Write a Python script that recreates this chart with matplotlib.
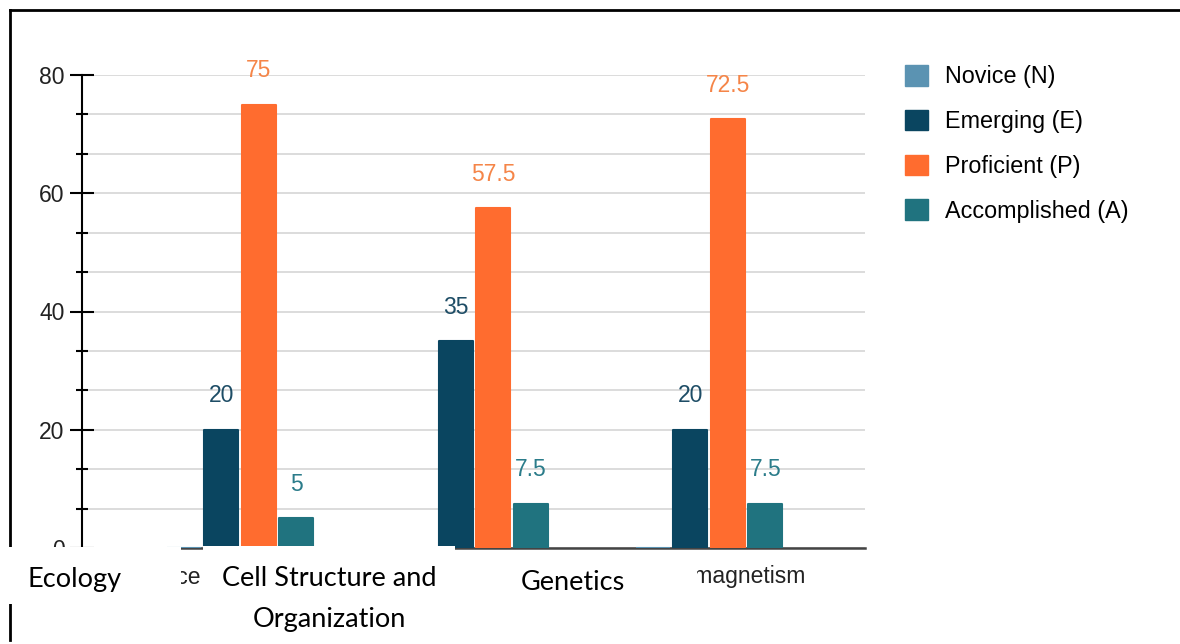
import matplotlib
matplotlib.use("Agg")
import matplotlib.pyplot as plt
from matplotlib.patches import Rectangle, Patch
from matplotlib.lines import Line2D
from matplotlib.ticker import MultipleLocator
from matplotlib.transforms import Bbox

# chart data
categories = ["Science", "Cell Structure and Organization", "Genetics", "Electromagnetism"]
series = ["Novice (N)", "Emerging (E)", "Proficient (P)", "Accomplished (A)"]
novice = [0, 0, 0, 0]
emerging = [0, 20, 35, 20]
proficient = [0, 75, 57.5, 72.5]
accomplished = [0, 5, 7.5, 7.5]
overlay_labels = ["Ecology", "Cell Structure and", "Organization", "Genetics"]

bar_colors = ["#5b93b2", "#0a4560", "#ff6c2f", "#20737f"]
label_colors = ["#5b93b2", "#1e4d66", "#f58548", "#2b7c8a"]

W, H = 1180, 644


def fx(x):
    return x / W


def fy(y):
    return 1 - y / H


fig = plt.figure(figsize=(11.8, 6.44), dpi=100)
ax = fig.add_axes([fx(82), fy(548), fx(865) - fx(82), fy(75) - fy(548)])

values = [novice, emerging, proficient, accomplished]
step = 0.16
width = 0.145
for i, (vals, col, lcol) in enumerate(zip(values, bar_colors, label_colors)):
    xs = [c + (i - 1.5) * step for c in range(len(categories))]
    ax.bar(xs, vals, width=width, color=col, edgecolor=col, linewidth=1.5,
           joinstyle="round", zorder=3)
    for x, v in zip(xs, vals):
        if v > 0:
            ax.annotate(f"{v:g}", (x, v), xytext=(0, 24.5), textcoords="offset points",
                        ha="center", va="center", color=lcol, fontsize=16.5,
                        family="Liberation Sans", annotation_clip=False)

ax.set_xlim(0.326, 3.665)
ax.set_ylim(0, 80)
ax.yaxis.set_major_locator(MultipleLocator(20))
ax.yaxis.set_minor_locator(MultipleLocator(20 / 3))
ax.grid(axis="y", which="both", color="#d6d6d6", linewidth=1.2, zorder=0)
ax.set_axisbelow(True)
ax.set_xticks([])
ax.tick_params(axis="y", which="major", direction="inout", length=17, width=1.5,
               labelsize=16.5, pad=4, labelcolor="#222222")
ax.tick_params(axis="y", which="minor", direction="inout", length=8, width=1.5)
for t in ax.get_yticklabels():
    t.set_family("Liberation Sans")
ax.spines["top"].set_visible(False)
ax.spines["right"].set_visible(False)
ax.spines["left"].set_linewidth(1.5)
ax.spines["left"].set_color("black")
ax.spines["bottom"].set_linewidth(1.8)
ax.spines["bottom"].set_color("#444444")

# legend
handles = [Patch(facecolor=c, edgecolor=c) for c in bar_colors]
fig.legend(handles, series, loc="upper left", bbox_to_anchor=(fx(905), fy(65)),
           frameon=False, handlelength=0.98, handleheight=0.98,
           handletextpad=0.72, labelspacing=0.92, borderaxespad=0, borderpad=0,
           prop={"family": "Liberation Sans", "size": 16.8})

# outer frame lines of the screenshot
fig.add_artist(Line2D([fx(10), fx(1180)], [fy(10), fy(10)], color="black", linewidth=2,
                      transform=fig.transFigure, zorder=4))
fig.add_artist(Line2D([fx(10), fx(10)], [fy(10), fy(640)], color="black", linewidth=2,
                      transform=fig.transFigure, zorder=4))

# remnants of the original category labels, partly covered
fig.text(fx(201), fy(577), categories[0], ha="right", va="center", fontsize=16.5,
         family="Liberation Sans", color="#222222", zorder=4)
rem = fig.text(fx(806), fy(577), categories[3], ha="right", va="center", fontsize=16.5,
               family="Liberation Sans", color="#222222", zorder=4)
rem.set_clip_box(Bbox([[697, 0], [W, H]]))
rem.set_clip_on(True)

# pasted-over label boxes
boxes = [(0, 547, 181, 604), (203, 545.5, 455, 644), (455, 552, 697, 644)]
for x0, y0, x1, y1 in boxes:
    fig.add_artist(Rectangle((fx(x0), fy(y1)), fx(x1) - fx(x0), fy(y0) - fy(y1),
                             transform=fig.transFigure, facecolor="white",
                             edgecolor="none", zorder=5))

fig.text(fx(75), fy(579), overlay_labels[0], ha="center", va="center", fontsize=19.5,
         family="Lato", color="black", zorder=6)
fig.text(fx(329), fy(578), overlay_labels[1], ha="center", va="center", fontsize=19.5,
         family="Lato", color="black", zorder=6)
fig.text(fx(329), fy(619), overlay_labels[2], ha="center", va="center", fontsize=19.5,
         family="Lato", color="black", zorder=6)
fig.text(fx(573), fy(582), overlay_labels[3], ha="center", va="center", fontsize=19.5,
         family="Lato", color="black", zorder=6)

fig.savefig("out.png", dpi=100)
